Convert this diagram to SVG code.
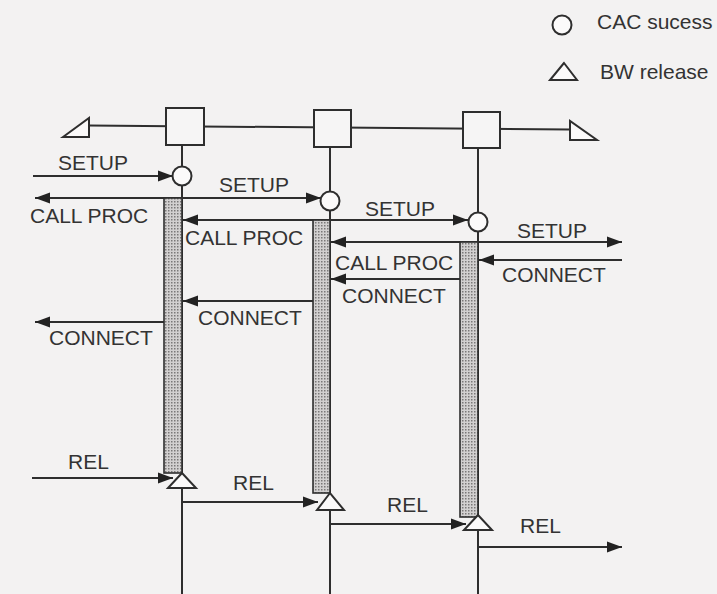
<svg xmlns="http://www.w3.org/2000/svg" width="717" height="594" viewBox="0 0 717 594">
<style>
.ln{stroke:#2e2e2e;stroke-width:2;fill:none}
.bx{stroke:#2e2e2e;stroke-width:2;fill:#f6f5f5}
.sym{stroke:#2e2e2e;stroke-width:2;fill:#fbfafa}
.bar{stroke:#2e2e2e;stroke-width:1.6;fill:url(#stip)}
.t{font-family:"Liberation Sans",Arial,sans-serif;font-size:21px;fill:#333}
.ar{marker-end:url(#ah)}
</style>
<defs>
<marker id="ah" markerUnits="userSpaceOnUse" markerWidth="16" markerHeight="12" refX="15" refY="6" orient="auto">
<path d="M0,0.5 L15,6 L0,11.5 Z" fill="#222"/>
</marker>
<pattern id="stip" width="3" height="3" patternUnits="userSpaceOnUse">
<rect width="3" height="3" fill="#d2d0d0"/>
<rect x="0" y="0" width="1.5" height="1.5" fill="#7a7878"/>
</pattern>
</defs>
<rect width="717" height="594" fill="#f3f2f2"/>

<g id="legend">
<circle cx="562" cy="25" r="9.5" class="sym"/>
<text x="597" y="29" class="t">CAC sucess</text>
<polygon points="564,63 550,80 577,80" class="sym"/>
<text x="600" y="79" class="t">BW release</text>
</g>

<g id="connectors">
<polyline points="89,125.5 570,129.5" class="ln"/>
<polygon points="63,137 89,118 89,137" class="sym"/>
<polygon points="570,121 570,140 597,140" class="sym"/>

<line x1="33" y1="176" x2="173" y2="176" class="ln ar"/>
<line x1="182" y1="198" x2="35" y2="198" class="ln ar"/>
<line x1="182" y1="198" x2="321" y2="198" class="ln ar"/>
<line x1="330" y1="220" x2="183" y2="220" class="ln ar"/>
<line x1="330" y1="220" x2="468" y2="220" class="ln ar"/>
<line x1="478" y1="242" x2="331" y2="242" class="ln ar"/>
<line x1="478" y1="242" x2="622" y2="242" class="ln ar"/>
<line x1="622" y1="260" x2="479" y2="260" class="ln ar"/>
<line x1="478" y1="279" x2="331" y2="279" class="ln ar"/>
<line x1="330" y1="301" x2="183" y2="301" class="ln ar"/>
<line x1="182" y1="322" x2="35" y2="322" class="ln ar"/>
<line x1="32" y1="478" x2="173" y2="478" class="ln ar"/>
<line x1="182" y1="502" x2="318" y2="502" class="ln ar"/>
<line x1="330" y1="524" x2="466" y2="524" class="ln ar"/>
<line x1="478" y1="547" x2="622" y2="547" class="ln ar"/>
</g>

<g id="labels">
<text x="58" y="170" class="t">SETUP</text>
<text x="219" y="192" class="t">SETUP</text>
<text x="365" y="216" class="t">SETUP</text>
<text x="517" y="238" class="t">SETUP</text>
<text x="30" y="223" class="t">CALL PROC</text>
<text x="185" y="245" class="t">CALL PROC</text>
<text x="335" y="270" class="t">CALL PROC</text>
<text x="502" y="282" class="t">CONNECT</text>
<text x="342" y="303" class="t">CONNECT</text>
<text x="198" y="325" class="t">CONNECT</text>
<text x="49" y="345" class="t">CONNECT</text>
<text x="68" y="469" class="t">REL</text>
<text x="233" y="490" class="t">REL</text>
<text x="387" y="512" class="t">REL</text>
<text x="520" y="533" class="t">REL</text>
</g>

<g id="node1">
<rect x="166" y="108" width="38" height="37" class="bx"/>
<line x1="182" y1="145" x2="182" y2="594" class="ln"/>
<rect x="164" y="198" width="18" height="275" class="bar"/>
<circle cx="182" cy="176" r="9.5" class="sym"/>
<polygon points="182,473 168,488 196,488" class="sym"/>
</g>

<g id="node2">
<rect x="314" y="110" width="37" height="37" class="bx"/>
<line x1="330" y1="147" x2="330" y2="594" class="ln"/>
<rect x="313" y="220" width="17" height="273" class="bar"/>
<circle cx="330" cy="201" r="9.5" class="sym"/>
<polygon points="330,493 317,510 344,510" class="sym"/>
</g>

<g id="node3">
<rect x="463" y="112" width="37" height="36" class="bx"/>
<line x1="478" y1="148" x2="478" y2="594" class="ln"/>
<rect x="460" y="242" width="18" height="275" class="bar"/>
<circle cx="478" cy="222" r="9.5" class="sym"/>
<polygon points="478,515 464,530 492,530" class="sym"/>
</g>
</svg>
